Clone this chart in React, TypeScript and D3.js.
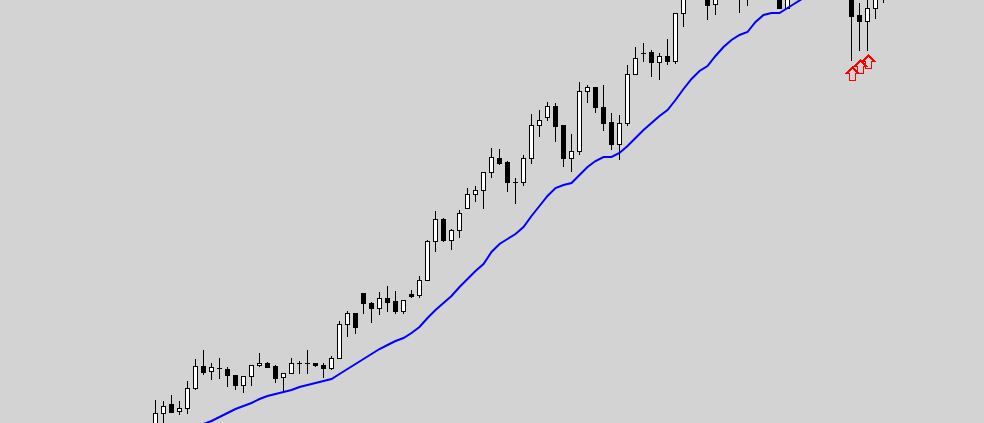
import React, { useEffect, useRef } from "react";
import * as d3 from "d3";

// bar values, oldest first (one entry per candle)
const opens = [
  99.5, 101.0, 101.9, 101.2, 101.5, 103.5, 105.7, 105.2, 105.5, 105.4,
  104.8, 103.8, 104.7, 105.8, 106.0, 105.7, 104.6, 105.0, 106.0, 106.0,
  106.0, 105.8, 105.5, 106.5, 109.9, 111.0, 113.0, 112.0, 111.5, 112.5,
  112.2, 111.2, 112.9, 112.8, 114.3, 118.2, 120.4, 118.3, 119.3, 121.5,
  122.9, 123.3, 125.1, 126.5, 126.1, 124.1, 124.1, 126.5, 129.8, 130.6,
  131.7, 129.8, 126.5, 127.2, 133.2, 133.6, 131.6, 130.1, 127.9, 130.0,
  134.9, 137.0, 137.1, 136.1, 136.7, 136.2, 141.0, 143.0, 144.0, 143.6,
  141.9, 143.8, 145.0, 144.3, 143.0, 144.5, 145.8, 144.9, 145.6, 141.5,
  144.0, 145.6, 147.0, 146.2, 147.5, 146.4, 147.9, 146.7, 140.8, 140.2,
  141.5, 143.0,
];
const highs = [
  102.3, 102.2, 102.8, 102.2, 104.2, 106.4, 107.3, 106.0, 106.5, 105.6,
  104.8, 104.7, 105.8, 107.0, 106.1, 105.8, 105.0, 106.5, 106.2, 107.3,
  106.0, 106.0, 106.7, 110.2, 111.2, 111.0, 113.0, 112.1, 113.1, 113.7,
  113.2, 112.3, 113.3, 114.7, 118.3, 121.2, 120.5, 119.4, 121.3, 123.5,
  123.7, 125.1, 127.5, 127.4, 126.2, 124.5, 126.8, 130.9, 131.3, 132.1,
  132.0, 129.8, 128.9, 134.1, 133.8, 133.6, 133.8, 131.0, 130.8, 135.8,
  137.6, 138.0, 137.3, 137.0, 138.4, 141.0, 143.3, 144.6, 145.2, 144.2,
  144.5, 145.6, 145.9, 144.8, 145.3, 146.4, 146.6, 146.9, 146.2, 144.7,
  146.3, 147.6, 147.8, 148.2, 148.0, 148.6, 148.3, 147.0, 142.0, 142.9,
  143.8, 144.6,
];
const lows = [
  99.3, 100.1, 101.1, 100.9, 101.0, 103.4, 104.9, 104.4, 104.5, 103.7,
  103.4, 103.1, 103.8, 105.7, 105.6, 104.1, 103.1, 105.0, 105.0, 105.0,
  105.7, 104.6, 105.4, 106.5, 108.7, 109.0, 111.0, 110.1, 110.9, 111.2,
  111.0, 111.0, 112.6, 112.6, 114.3, 117.2, 118.2, 117.4, 118.6, 121.5,
  122.2, 121.5, 124.6, 125.9, 123.2, 122.0, 123.8, 126.0, 128.7, 130.3,
  128.2, 125.7, 125.2, 126.9, 132.1, 131.1, 129.3, 127.4, 126.4, 129.8,
  134.9, 136.2, 134.7, 134.4, 135.9, 136.0, 139.7, 142.6, 143.1, 140.4,
  140.9, 142.9, 143.3, 141.1, 141.8, 143.9, 144.3, 144.2, 141.5, 141.5,
  143.2, 145.1, 145.5, 145.8, 145.6, 146.0, 145.9, 136.3, 137.3, 137.3,
  140.5, 142.1,
];
const closes = [
  101.0, 101.7, 101.1, 101.5, 103.5, 105.7, 105.1, 105.6, 105.5, 104.8,
  103.8, 104.7, 105.8, 106.0, 105.6, 104.5, 105.0, 106.0, 106.0, 106.0,
  105.8, 105.5, 106.5, 109.9, 111.0, 109.6, 112.0, 111.5, 112.5, 112.1,
  111.2, 112.3, 112.7, 114.3, 118.2, 120.4, 118.3, 119.3, 121.0, 122.9,
  123.3, 125.1, 126.6, 126.0, 124.1, 124.1, 126.5, 129.8, 130.3, 131.7,
  129.7, 126.5, 127.2, 133.2, 133.6, 131.6, 130.0, 127.9, 130.0, 134.9,
  136.5, 137.0, 136.1, 136.7, 136.2, 141.0, 142.8, 144.0, 143.4, 141.8,
  143.9, 145.0, 144.2, 142.9, 144.6, 145.7, 144.9, 146.1, 141.5, 144.0,
  145.6, 147.0, 146.2, 147.5, 146.4, 147.9, 146.8, 140.7, 140.2, 141.5,
  143.2, 144.0,
];
// moving average
const maValues = [
  98.3, 98.7, 99.0, 99.3, 99.5, 99.7, 99.9, 100.2, 100.6, 101.0,
  101.4, 101.7, 102.0, 102.4, 102.7, 102.9, 103.1, 103.3, 103.6, 103.8,
  104.0, 104.2, 104.4, 104.9, 105.4, 105.9, 106.4, 106.9, 107.4, 107.8,
  108.2, 108.5, 109.0, 109.6, 110.5, 111.3, 112.0, 112.7, 113.6, 114.4,
  115.2, 115.9, 117.1, 117.9, 118.4, 118.9, 119.6, 120.7, 121.7, 122.7,
  123.5, 123.8, 124.0, 124.8, 125.6, 126.2, 126.6, 126.6, 127.0, 127.7,
  128.5, 129.3, 130.0, 130.7, 131.3, 132.3, 133.4, 134.4, 135.2, 135.7,
  136.7, 137.6, 138.3, 138.8, 139.1, 140.1, 140.8, 141.0, 141.0, 141.5,
  142.0, 142.5, 142.9, 143.3, 143.7, 144.0, 144.3, 144.5, 144.7, 144.8,
  145.0, 145.2,
];
// buy signal arrows (bar index, price of arrow tip)
const arrowBars = [87, 88, 89];
const arrowPrices = [135.6, 136.3, 136.8];

const width = 984;
const height = 423;

export default function App() {
  const svgRef = useRef<SVGSVGElement>(null);

  useEffect(() => {
    const idx = d3.range(opens.length);

    const x = d3.scaleBand<number>()
      .domain(idx)
      .range([151.5, 151.5 + idx.length * 8])
      .padding(0);
    const cx = (i: number) => Math.round(x(i)! + x.bandwidth() / 2 - 0.5) + 0.5;

    const y = d3.scaleLinear().domain([100, 142.3]).range([height, 0]);
    const py = (v: number) => Math.round(y(v)) + 0.5;

    const svg = d3.select(svgRef.current);
    svg.selectAll("*").remove();

    svg.append("rect")
      .attr("width", width)
      .attr("height", height)
      .attr("fill", "#d3d3d3");

    // wicks
    svg.append("g")
      .attr("stroke", "#000")
      .attr("stroke-width", 1)
      .selectAll("line")
      .data(idx)
      .join("line")
      .attr("x1", cx)
      .attr("x2", cx)
      .attr("y1", (i) => py(highs[i]) - 0.5)
      .attr("y2", (i) => py(lows[i]) + 0.5);

    // bodies
    const bodies = svg.append("g").attr("stroke", "#000").attr("stroke-width", 1);
    idx.forEach((i) => {
      const top = py(Math.max(opens[i], closes[i]));
      const bot = py(Math.min(opens[i], closes[i]));
      if (bot - top < 1) {
        bodies.append("line")
          .attr("x1", cx(i) - 2.5)
          .attr("x2", cx(i) + 2.5)
          .attr("y1", top)
          .attr("y2", top);
      } else {
        bodies.append("rect")
          .attr("x", cx(i) - 2)
          .attr("y", top)
          .attr("width", 4)
          .attr("height", bot - top)
          .attr("fill", closes[i] >= opens[i] ? "#fff" : "#000");
      }
    });

    // moving average
    const line = d3.line<number>()
      .x((i) => cx(i))
      .y((i) => y(maValues[i]));
    svg.append("path")
      .datum(idx)
      .attr("fill", "none")
      .attr("stroke", "#0000ff")
      .attr("stroke-width", 2)
      .attr("d", line);

    // signal arrows (hollow)
    svg.append("g")
      .attr("shape-rendering", "crispEdges")
      .selectAll("path")
      .data(arrowBars)
      .join("path")
      .attr("transform", (b, k) => `translate(${cx(b) + 1},${py(arrowPrices[k])})`)
      .attr("d", "M0,0L6,6L3,6L3,13L-3,13L-3,6L-6,6Z")
      .attr("fill", "none")
      .attr("stroke", "#ff0000")
      .attr("stroke-width", 1.5);
  }, []);

  return (
    <svg
      ref={svgRef}
      width={width}
      height={height}
      style={{ position: "absolute", left: 0, top: 0, display: "block" }}
    ></svg>
  );
}
